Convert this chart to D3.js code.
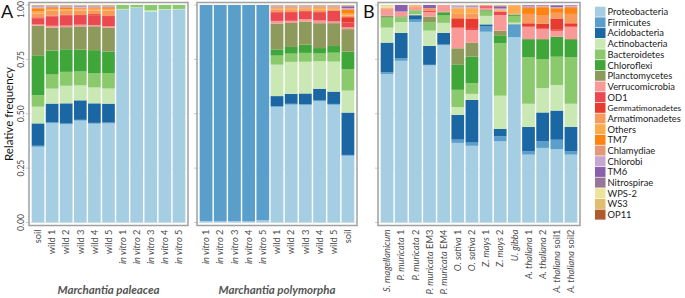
<!DOCTYPE html>
<html>
<head>
<meta charset="utf-8">
<script src="https://cdn.jsdelivr.net/npm/d3@7"></script>
<style>
body { margin: 0; background: #fff; }
text { font-family: Lato, "Open Sans", sans-serif; }
</style>
</head>
<body>
<svg id="chart" width="685" height="298"></svg>
<script>
// phyla in legend order (bottom of stack -> top)
var phyla = ["Proteobacteria", "Firmicutes", "Acidobacteria", "Actinobacteria", "Bacteroidetes",
             "Chloroflexi", "Planctomycetes", "Verrucomicrobia", "OD1", "Gemmatimonadetes",
             "Armatimonadetes", "Others", "TM7", "Chlamydiae", "Chlorobi", "TM6", "Nitrospirae",
             "WPS-2", "WS3", "OP11"];
var phylumColors = ["#a6cee3", "#5a9ecb", "#1a67a3", "#c9e8b3", "#8ac96c",
                    "#3fa63a", "#8e9a5c", "#f99a99", "#ea4a4f", "#e63b2e",
                    "#f99a5d", "#fdab4c", "#fe8410", "#e49878", "#c6a7d4", "#8a60ad", "#977698",
                    "#ede49b", "#e1be6e", "#b05b2c"];

var yTicks = [0, 0.25, 0.5, 0.75, 1];
var yTickLabels = ["0.00", "0.25", "0.50", "0.75", "1.00"];

// Marchantia paleacea
var samplesA1 = ["soil", "wild 1", "wild 2", "wild 3", "wild 4", "wild 5",
                 "in vitro 1", "in vitro 2", "in vitro 3", "in vitro 4", "in vitro 5"];
var valuesA1 = [
  [.349,.005,.103,.077,.053,.184,.137,.005,.029,.004,.018,.009,.015,.003,.004,.002,.001,.001,.003,.001],
  [.458,.004,.087,.069,.065,.111,.106,.008,.043,.004,.023,.008,.004,.006,.002,.001,.001,.001,.002,.001],
  [.452,.004,.093,.081,.064,.104,.102,.007,.046,.005,.017,.008,.006,.004,.003,.001,.001,.001,.002,.001],
  [.470,.004,.090,.069,.064,.101,.107,.008,.041,.004,.020,.006,.005,.003,.005,.002,.001,.001,.002,.001],
  [.455,.004,.090,.073,.065,.107,.110,.006,.045,.005,.017,.008,.004,.004,.003,.001,.001,.001,.002,.001],
  [.460,.004,.088,.070,.072,.100,.110,.007,.044,.004,.025,.008,.004,.006,.002,.001,.001,.001,.002,.001],
  [.980,0,0,.002,.018,0,0,0,0,0,0,0,0,0,0,0,0,0,0,0],
  [.987,0,0,.002,.011,0,0,0,0,0,0,0,0,0,0,0,0,0,0,0],
  [.970,0,0,.005,.025,0,0,0,0,0,0,0,0,0,0,0,0,0,0,0],
  [.978,0,0,.003,.019,0,0,0,0,0,0,0,0,0,0,0,0,0,0,0],
  [.980,0,0,.002,.018,0,0,0,0,0,0,0,0,0,0,0,0,0,0,0]
];

// Marchantia polymorpha
var samplesA2 = ["in vitro 1", "in vitro 2", "in vitro 3", "in vitro 4", "in vitro 5",
                 "wild 1", "wild 2", "wild 3", "wild 4", "wild 5", "soil"];
var valuesA2 = [
  [.006,.994,0,0,0,0,0,0,0,0,0,0,0,0,0,0,0,0,0,0],
  [.005,.995,0,0,0,0,0,0,0,0,0,0,0,0,0,0,0,0,0,0],
  [.006,.994,0,0,0,0,0,0,0,0,0,0,0,0,0,0,0,0,0,0],
  [.005,.995,0,0,0,0,0,0,0,0,0,0,0,0,0,0,0,0,0,0],
  [.010,.990,0,0,0,0,0,0,0,0,0,0,0,0,0,0,0,0,0,0],
  [.537,.004,.046,.146,.042,.029,.120,.012,.040,.004,.008,.006,.003,.005,.002,.001,.001,.001,.002,.001],
  [.545,.004,.046,.148,.038,.031,.111,.010,.037,.004,.012,.006,.003,.003,.002,.001,.001,.001,.002,.001],
  [.545,.004,.049,.147,.041,.038,.107,.012,.034,.004,.008,.004,.003,.004,.002,.001,.001,.001,.002,.001],
  [.560,.004,.054,.127,.036,.025,.115,.012,.035,.004,.012,.008,.003,.003,.001,.001,.001,.001,.002,.001],
  [.545,.004,.057,.139,.041,.031,.106,.008,.044,.006,.006,.005,.003,.004,.002,.001,.001,.001,.002,.001],
  [.307,.004,.195,.101,.099,.080,.104,.008,.022,.025,.008,.008,.018,.004,.004,.005,.004,.002,.002,.001]
];

// other plants
var samplesB = ["S. magellanicum", "P. muricata 1", "P. muricata 2", "P. muricata EM3", "P. muricata EM4",
                "O. sativa 1", "O. sativa 2", "Z. mays 1", "Z. mays 2", "U. gibba",
                "A. thaliana 1", "A. thaliana 2", "A. thaliana soil1", "A. thaliana soil2"];
var valuesB = [
  [.683,.008,.136,.069,.043,.003,.010,.024,.003,0,.003,.002,0,.004,0,0,0,.010,.002,0],
  [.745,.012,.116,.050,.022,0,.005,.016,.002,0,.002,0,0,0,.002,.030,0,0,0,0],
  [.924,.011,.020,.005,.018,0,0,.010,.002,0,.004,.006,0,.002,0,0,0,0,0,0],
  [.722,.003,.087,.070,.037,0,.027,.022,.005,.002,.003,0,.005,.002,0,.015,0,0,0,0],
  [.815,.003,.054,.046,.034,.012,.006,.030,0,0,0,0,0,0,0,0,0,0,0,0],
  [.366,.015,.114,.036,.079,.115,.076,.092,.004,.042,.020,.025,0,.004,.006,0,.004,.002,0,0],
  [.353,.015,.196,.028,.049,.122,.064,.058,.010,.044,.022,.025,0,.004,.004,.003,.002,.001,.001,0],
  [.877,.024,.010,.039,.020,.005,.002,.010,.006,.004,.002,0,0,.001,0,0,0,0,0,0],
  [.373,.023,.034,.153,.241,.034,.024,.072,.016,0,.005,.004,0,.002,.003,.010,.002,0,.004,0],
  [.852,.056,.003,.008,.031,.006,0,.002,0,0,.004,.036,0,.002,0,0,0,0,0,0],
  [.312,.015,.112,.107,.214,.083,0,.055,.004,.014,.043,0,.027,.006,.002,.004,.002,0,0,0],
  [.343,.030,.133,.112,.133,.092,0,.045,.005,.020,.041,0,.036,.004,.002,.002,.002,0,0,0],
  [.338,.043,.134,.118,.130,.092,0,.027,.005,.052,.026,0,.021,.003,.002,.008,.002,0,0,0],
  [.312,.016,.111,.107,.214,.083,0,.055,.004,.014,.043,0,.027,.008,.002,.002,.002,0,0,0]
];

var svg = d3.select("#chart");
var y = d3.scaleLinear().domain([0, 1]).range([222.5, 5]);
var panelTop = 2.5, panelBottom = 225.5;

var stack = d3.stack()
  .keys(d3.range(phyla.length))
  .offset(d3.stackOffsetExpand);

// "in vitro" and species names in italics
function splitLabel(s) {
  var m = s.match(/^(in vitro|[A-Z]\. [a-z]+)(.*)$/);
  return m ? [m[1], m[2]] : ["", s];
}

function drawPanel(x0, x1, samples, rows, title) {
  var x = d3.scaleBand().domain(samples).range([x0, x1])
            .paddingInner(0.1).paddingOuter(0.19);
  var g = svg.append("g");

  // grid
  g.selectAll(".grid").data(yTicks).enter().append("line")
    .attr("x1", x0).attr("x2", x1)
    .attr("y1", function(d){ return y(d); }).attr("y2", function(d){ return y(d); })
    .attr("stroke", "#ebebeb").attr("stroke-width", 0.8);

  // tick marks
  g.selectAll(".tick").data(yTicks).enter().append("line")
    .attr("x1", x0 - 3).attr("x2", x0)
    .attr("y1", function(d){ return y(d); }).attr("y2", function(d){ return y(d); })
    .attr("stroke", "#bdbdbd").attr("stroke-width", 0.8);

  var series = stack(rows);
  g.selectAll(".layer").data(series).enter().append("g")
    .attr("fill", function(d){ return phylumColors[d.key]; })
    .selectAll("rect").data(function(d){ return d; }).enter().append("rect")
    .attr("x", function(d, i){ return x(samples[i]); })
    .attr("width", x.bandwidth())
    .attr("y", function(d){ return y(d[1]); })
    .attr("height", function(d){ return Math.max(0, y(d[0]) - y(d[1])); });

  // frame
  g.append("rect")
    .attr("x", x0).attr("y", panelTop)
    .attr("width", x1 - x0).attr("height", panelBottom - panelTop)
    .attr("fill", "none").attr("stroke", "#a0a0a0").attr("stroke-width", 1.5);

  // x labels
  samples.forEach(function(s) {
    var parts = splitLabel(s);
    var t = g.append("text")
      .attr("transform", "translate(" + (x(s) + x.bandwidth() / 2 + 3.2) + ",229.5) rotate(-90)")
      .attr("text-anchor", "end")
      .attr("font-size", "9.3px")
      .attr("fill", "#4d4d4d");
    if (parts[0]) t.append("tspan").attr("font-style", "italic").text(parts[0]);
    if (parts[1]) t.append("tspan").text(parts[1]);
  });

  if (title) {
    svg.append("text")
      .attr("x", (x0 + x1) / 2).attr("y", 294)
      .attr("text-anchor", "middle")
      .attr("font-size", "11.5px")
      .attr("font-weight", "bold").attr("font-style", "italic")
      .attr("fill", "#555")
      .text(title);
  }
}

drawPanel(29, 188, samplesA1, valuesA1, "Marchantia paleacea");
drawPanel(197, 357, samplesA2, valuesA2, "Marchantia polymorpha");
drawPanel(378, 580, samplesB, valuesB, null);

// y axis tick labels (rotated); keep the top one inside the picture
svg.selectAll(".ylab").data(yTicks).enter().append("text")
  .attr("transform", function(d){ return "translate(24," + Math.max(y(d), 9.5) + ") rotate(-90)"; })
  .attr("text-anchor", "middle")
  .attr("font-size", "8.5px")
  .attr("fill", "#4d4d4d")
  .text(function(d, i){ return yTickLabels[i]; });

svg.append("text")
  .attr("transform", "translate(12.5,114) rotate(-90)")
  .attr("text-anchor", "middle")
  .attr("font-size", "11.5px")
  .attr("fill", "#111")
  .text("Relative frequency");

// panel letters
svg.append("text").attr("x", 1).attr("y", 18).attr("font-size", "18px").attr("fill", "#111").text("A");
svg.append("text").attr("x", 363).attr("y", 18).attr("font-size", "18px").attr("fill", "#111").text("B");

// legend
var legendFont = 9.4;
var legend = svg.append("g");
var row = legend.selectAll("g").data(phyla).enter().append("g")
  .attr("transform", function(d, i){ return "translate(595," + (11.7 + i * 10.68) + ")"; });
row.append("rect")
  .attr("x", 0).attr("y", -5).attr("width", 10.5).attr("height", 10)
  .attr("fill", function(d, i){ return phylumColors[i]; });
row.append("text")
  .attr("x", 12.5).attr("y", 3.4)
  .attr("font-size", legendFont + "px")
  .attr("fill", "#222")
  .text(function(d){ return d; })
  .each(function() {
    // shrink long names so they stay inside the picture
    var maxW = 685 - 607.5 - 4;
    var w = this.getComputedTextLength();
    if (w > maxW) {
      d3.select(this).attr("font-size", (legendFont * maxW / w).toFixed(2) + "px");
    }
  });
</script>
</body>
</html>
